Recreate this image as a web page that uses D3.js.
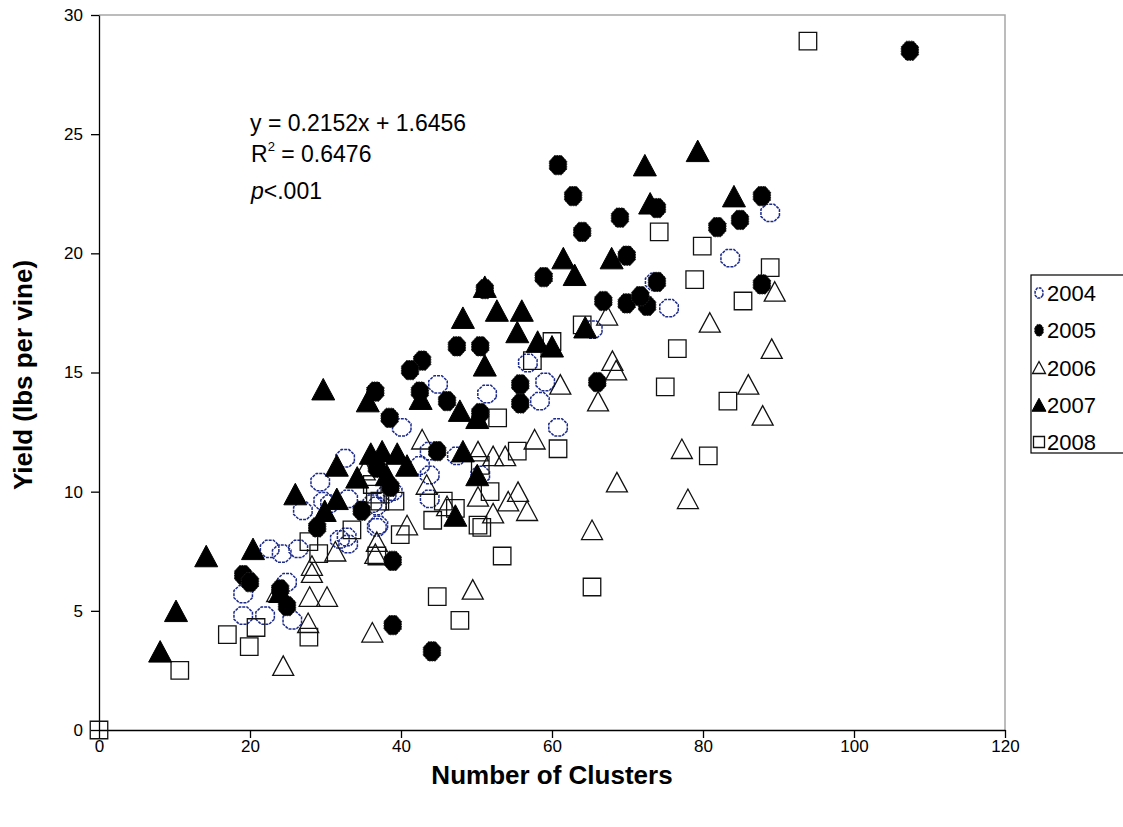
<!DOCTYPE html>
<html><head><meta charset="utf-8">
<script src="https://cdn.jsdelivr.net/npm/d3@7"></script>
<style>
html,body{margin:0;padding:0;background:#fff;}
svg{display:block;font-family:Arial,"Liberation Sans",sans-serif;}
</style></head>
<body><svg id="chart" width="1123" height="827"></svg>
<script>
const years = ["2004","2005","2006","2007","2008"];
const xTicks = [0,20,40,60,80,100,120];
const yTicks = [0,5,10,15,20,25,30];
const s2004 = [[29.3,10.4],[30.6,9.5],[27.0,9.2],[33.0,9.7],[29.7,9.6],[22.6,7.6],[24.2,7.4],[26.4,7.6],[19.1,5.7],[19.1,4.8],[22.0,4.8],[24.9,6.2],[25.6,4.6],[31.9,8.0],[33.0,7.8],[32.8,8.1],[37.0,8.6],[36.2,9.5],[32.6,11.4],[40.1,12.7],[38.1,9.9],[44.9,14.5],[51.4,14.1],[59.1,14.6],[58.4,13.8],[60.8,12.7],[56.8,15.4],[43.8,11.7],[47.4,11.5],[42.5,11.1],[43.8,10.7],[38.9,10.0],[43.8,9.7],[36.8,9.4],[36.8,8.5],[50.5,10.7],[65.4,16.8],[73.6,18.8],[75.5,17.7],[83.6,19.8],[88.9,21.7]];
const s2005 = [[107.4,28.5],[60.8,23.7],[62.8,22.4],[64.0,20.9],[58.9,19.0],[51.1,18.5],[47.4,16.1],[50.5,16.1],[42.8,15.5],[41.2,15.1],[69.0,21.5],[69.9,19.9],[73.9,21.9],[66.8,18.0],[69.9,17.9],[72.6,17.8],[73.9,18.8],[71.7,18.2],[81.9,21.1],[84.9,21.4],[87.8,22.4],[87.8,18.7],[36.6,14.2],[42.5,14.2],[46.1,13.8],[50.5,13.3],[38.5,13.1],[55.8,14.5],[55.8,13.7],[66.0,14.6],[44.8,11.7],[38.9,7.1],[38.9,4.4],[44.1,3.3],[34.8,9.2],[28.9,8.5],[19.1,6.5],[20.0,6.2],[24.0,5.9],[24.9,5.2],[36.8,11.0],[38.6,10.2]];
const s2006 = [[24.4,2.7],[28.2,6.9],[28.2,6.6],[27.9,5.6],[30.2,5.6],[27.7,4.5],[36.2,4.1],[31.3,7.5],[23.6,5.8],[36.8,7.9],[36.6,7.4],[68.0,15.5],[68.5,15.1],[61.1,14.5],[66.1,13.8],[57.7,12.2],[50.2,11.7],[52.2,11.5],[53.8,11.5],[42.8,12.2],[68.6,10.4],[55.5,10.0],[54.2,9.6],[56.7,9.2],[50.2,9.8],[52.2,9.1],[65.3,8.4],[40.8,8.6],[43.4,10.3],[46.1,9.4],[49.5,5.9],[89.5,18.4],[80.9,17.1],[89.1,16.0],[86.0,14.5],[87.9,13.2],[77.2,11.8],[78.0,9.7],[67.3,17.4],[35.2,10.9]];
const s2007 = [[8.1,3.3],[10.2,5.0],[14.2,7.3],[20.4,7.6],[24.0,5.8],[26.0,9.9],[29.7,14.3],[29.9,9.2],[31.5,9.7],[31.5,11.1],[34.2,10.6],[35.6,13.8],[36.0,11.6],[37.5,11.7],[38.1,10.7],[39.5,11.6],[40.8,11.1],[42.6,13.9],[47.2,9.0],[47.8,13.4],[48.2,11.7],[48.2,17.3],[50.1,13.1],[50.1,10.7],[51.1,18.6],[51.1,15.3],[52.7,17.6],[55.4,16.7],[56.0,17.6],[58.1,16.3],[60.0,16.1],[61.5,19.8],[63.0,19.1],[64.4,16.9],[67.9,19.8],[72.3,23.7],[73.0,22.1],[79.3,24.3],[84.1,22.4]];
const s2008 = [[0,0],[10.7,2.5],[17.0,4.0],[19.9,3.5],[20.8,4.3],[27.8,3.9],[27.8,7.9],[29.1,7.4],[33.5,8.4],[36.8,7.3],[36.6,9.9],[37.2,9.6],[39.2,9.6],[39.9,8.2],[36.2,10.3],[52.8,13.1],[55.4,11.7],[60.8,11.8],[75.0,14.4],[51.8,10.0],[44.2,8.8],[47.2,9.3],[50.2,8.6],[50.7,8.5],[53.4,7.3],[44.8,5.6],[65.3,6.0],[57.4,15.5],[50.5,11.1],[45.6,9.6],[47.8,4.6],[74.2,20.9],[64.0,17.0],[60.0,16.3],[79.9,20.3],[88.9,19.4],[78.9,18.9],[85.3,18.0],[76.6,16.0],[83.3,13.8],[80.7,11.5],[93.9,28.9]];
const eqLines = ["y = 0.2152x + 1.6456", "R² = 0.6476", "p<.001"];

const svg = d3.select("#chart");
const x = d3.scaleLinear().domain([0,120]).range([99,1005]);
const y = d3.scaleLinear().domain([0,30]).range([730,15]);

function octagon(rx, ry){
  const pts = d3.range(8).map(k=>{const a=Math.PI/8+k*Math.PI/4;return [rx*Math.cos(a), ry*Math.sin(a)];});
  return "M"+pts.map(p=>p[0].toFixed(2)+","+p[1].toFixed(2)).join("L")+"Z";
}
function triangle(w,h){ return `M0,${-h/2}L${w/2},${h/2}L${-w/2},${h/2}Z`; }
function square(s){ return `M${-s/2},${-s/2}h${s}v${s}h${-s}Z`; }

const styles = {
  "2004": {path: octagon(10,9.4), fill:"none", stroke:"#1c2a8c", sw:1.5, dash:"3,1", lpath: octagon(4.2,5.5)},
  "2005": {path: octagon(9.4,10.4), fill:"#000", stroke:"#222", sw:1, dash:"1.5,1", lpath: octagon(4.6,6.3)},
  "2006": {path: triangle(21,19.5), fill:"none", stroke:"#111", sw:1.3, dash:null, lpath: triangle(13,12)},
  "2007": {path: triangle(23,21.5), fill:"#000", stroke:"#000", sw:1, dash:null, lpath: triangle(14,13)},
  "2008": {path: square(17.5), fill:"none", stroke:"#111", sw:1.3, dash:null, lpath: square(11)}
};
const seriesData = {"2004":s2004,"2005":s2005,"2006":s2006,"2007":s2007,"2008":s2008};

// plot frame (top/right gray)
svg.append("path").attr("d",`M${x(0)},${y(30)}H${x(120)}V${y(0)}`).attr("fill","none").attr("stroke","#a6a6a6").attr("stroke-width",1.5);

// axes
const fontTick = "17px";
const gx = svg.append("g").attr("transform",`translate(0,${y(0)})`)
  .call(d3.axisBottom(x).tickValues(xTicks).tickSize(8).tickSizeOuter(0).tickPadding(2));
const gy = svg.append("g").attr("transform",`translate(${x(0)},0)`)
  .call(d3.axisLeft(y).tickValues(yTicks).tickSize(8).tickSizeOuter(0).tickPadding(8));
[gx,gy].forEach(g=>{
  g.select(".domain").attr("stroke","#000").attr("stroke-width",1.3);
  g.selectAll(".tick line").attr("stroke","#000").attr("stroke-width",1.3);
  g.selectAll(".tick text").attr("font-size",fontTick).attr("fill","#000").attr("font-family","Arial, 'Liberation Sans', sans-serif");
});

// points
const order = ["2004","2006","2008","2005","2007"];
order.forEach(yr=>{
  const st = styles[yr];
  svg.append("g").selectAll("path").data(seriesData[yr]).join("path")
    .attr("d", st.path)
    .attr("transform", d=>`translate(${x(d[0])},${y(d[1])})`)
    .attr("fill", st.fill).attr("stroke", st.stroke).attr("stroke-width", st.sw)
    .attr("stroke-dasharray", st.dash);
});

// equation text
const eq = svg.append("g").attr("font-size","23px").attr("fill","#000");
eq.append("text").attr("x",250).attr("y",131).text(eqLines[0]);
const r2 = eq.append("text").attr("x",251).attr("y",162);
r2.append("tspan").text("R");
r2.append("tspan").attr("font-size","13px").attr("dy",-11).text("2");
r2.append("tspan").attr("dy",11).text(" = 0.6476");
const pt = eq.append("text").attr("x",251).attr("y",199);
pt.append("tspan").attr("font-style","italic").text("p");
pt.append("tspan").text("<.001");

// axis titles
svg.append("text").attr("x",552).attr("y",784).attr("text-anchor","middle")
  .attr("font-size","26px").attr("font-weight","bold").text("Number of Clusters");
svg.append("text").attr("transform","translate(32,375) rotate(-90)").attr("text-anchor","middle")
  .attr("font-size","26px").attr("font-weight","bold").text("Yield (lbs per vine)");

// legend
const lg = svg.append("g");
lg.append("rect").attr("x",1031).attr("y",275).attr("width",110).attr("height",178)
  .attr("fill","#fff").attr("stroke","#000").attr("stroke-width",1.2);
const ly = d3.scalePoint().domain(years).range([293,442]);
years.forEach(yr=>{
  const st = styles[yr];
  lg.append("path").attr("d",st.lpath).attr("transform",`translate(1039,${ly(yr)})`)
    .attr("fill",st.fill).attr("stroke",st.stroke).attr("stroke-width",st.sw).attr("stroke-dasharray",st.dash);
  lg.append("text").attr("x",1047).attr("y",ly(yr)+8).attr("font-size","22px").text(yr);
});
</script></body></html>
